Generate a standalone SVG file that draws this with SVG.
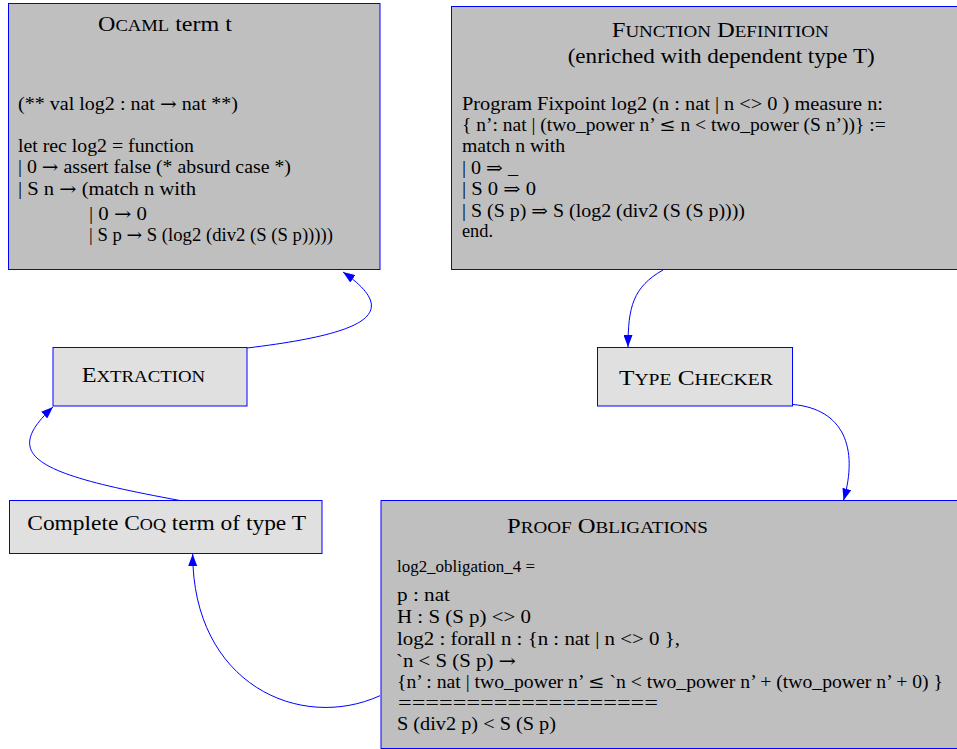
<svg xmlns="http://www.w3.org/2000/svg" width="957" height="749" viewBox="0 0 957 749">
<defs>
<marker id="ah" markerUnits="userSpaceOnUse" viewBox="0 0 12 9" markerWidth="12" markerHeight="9" refX="12" refY="4.5" orient="auto">
<path d="M0,0 L12,4.5 L0,9 z" fill="#0000ff"/>
</marker>
</defs>
<style>
.big{fill:#bfbfbf;stroke:#0000ff;stroke-width:1}
.small{fill:#e0e0e0;stroke:#0000ff;stroke-width:1}
text{font-family:"Liberation Serif","DejaVu Serif",serif;fill:#000}
.t{font-size:20.7px}
.sc{font-size:16px}
.b{font-size:18px}
.s{font-size:16px}
.ar{font-family:"DejaVu Serif",serif}
.edge{fill:none;stroke:#0000ff;stroke-width:1;marker-end:url(#ah)}
</style>
<g id="connectors">
<path class="edge" d="M180,500.5 C35,474 0,456 53,407"/>
<path class="edge" d="M247,348 C372,333 400.4,312 343,272"/>
<path class="edge" d="M663,270 C633,287 628,307 628,347"/>
<path class="edge" d="M793,404.5 C843,409 859,447 843.5,500.5"/>
<path class="edge" d="M380,695.7 C300,732 192.7,684 192.7,554"/>
</g>
<g id="ocaml">
<rect class="big" x="8.5" y="3.5" width="371.5" height="266"/>
<text class="t" x="98" y="31" textLength="134" lengthAdjust="spacingAndGlyphs">O<tspan class="sc">CAML</tspan> term t</text>
<text class="b" x="18" y="110" textLength="220" lengthAdjust="spacingAndGlyphs">(** val log2 : nat <tspan class="ar">→</tspan> nat **)</text>
<text class="b" x="18" y="152" textLength="176" lengthAdjust="spacingAndGlyphs">let rec log2 = function</text>
<text class="b" x="18" y="173" textLength="273" lengthAdjust="spacingAndGlyphs">| 0 <tspan class="ar">→</tspan> assert false (* absurd case *)</text>
<text class="b" x="18" y="195" textLength="178" lengthAdjust="spacingAndGlyphs">| S n <tspan class="ar">→</tspan> (match n with</text>
<text class="b" x="89" y="220" textLength="58" lengthAdjust="spacingAndGlyphs">| 0 <tspan class="ar">→</tspan> 0</text>
<text class="b" x="89" y="241" textLength="244" lengthAdjust="spacingAndGlyphs">| S p <tspan class="ar">→</tspan> S (log2 (div2 (S (S p)))))</text>
</g>
<g id="fundef">
<rect class="big" x="451.5" y="6.5" width="510" height="263"/>
<text class="t" x="611.7" y="36.7" textLength="217" lengthAdjust="spacingAndGlyphs">F<tspan class="sc">UNCTION</tspan> D<tspan class="sc">EFINITION</tspan></text>
<text class="t" x="567.7" y="63.3" textLength="307" lengthAdjust="spacingAndGlyphs">(enriched with dependent type T)</text>
<text class="b" x="462" y="110" textLength="421" lengthAdjust="spacingAndGlyphs">Program Fixpoint log2 (n : nat | n &lt;&gt; 0 ) measure n:</text>
<text class="b" x="462" y="131" textLength="423.7" lengthAdjust="spacingAndGlyphs">{ n’: nat | (two_power n’ <tspan class="ar">≤</tspan> n &lt; two_power (S n’))} :=</text>
<text class="b" x="462" y="151.7" textLength="103" lengthAdjust="spacingAndGlyphs">match n with</text>
<text class="b" x="462" y="174" textLength="56" lengthAdjust="spacingAndGlyphs">| 0 <tspan class="ar">⇒</tspan> _</text>
<text class="b" x="462" y="195" textLength="74" lengthAdjust="spacingAndGlyphs">| S 0 <tspan class="ar">⇒</tspan> 0</text>
<text class="b" x="462" y="216.7" textLength="283" lengthAdjust="spacingAndGlyphs">| S (S p) <tspan class="ar">⇒</tspan> S (log2 (div2 (S (S p))))</text>
<text class="b" x="462" y="237.3" textLength="31" lengthAdjust="spacingAndGlyphs">end.</text>
</g>
<g id="extraction">
<rect class="small" x="53" y="347.5" width="194" height="58.5"/>
<text class="t" x="81.7" y="382" textLength="123.3" lengthAdjust="spacingAndGlyphs">E<tspan class="sc">XTRACTION</tspan></text>
</g>
<g id="typechecker">
<rect class="small" x="597.5" y="347.5" width="195" height="58.5"/>
<text class="t" x="619" y="385" textLength="153.7" lengthAdjust="spacingAndGlyphs">T<tspan class="sc">YPE</tspan> C<tspan class="sc">HECKER</tspan></text>
</g>
<g id="coqterm">
<rect class="small" x="9.5" y="500.5" width="312.5" height="53"/>
<text class="t" x="27.3" y="530" textLength="278.7" lengthAdjust="spacingAndGlyphs">Complete C<tspan class="sc">OQ</tspan> term of type T</text>
</g>
<g id="proofobligations">
<rect class="big" x="381" y="500.5" width="581" height="248"/>
<text class="t" x="507" y="533" textLength="201" lengthAdjust="spacingAndGlyphs">P<tspan class="sc">ROOF</tspan> O<tspan class="sc">BLIGATIONS</tspan></text>
<text class="s" x="397" y="572" textLength="138" lengthAdjust="spacingAndGlyphs">log2_obligation_4 =</text>
<text class="b" x="397" y="601" textLength="53" lengthAdjust="spacingAndGlyphs">p : nat</text>
<text class="b" x="397" y="623" textLength="134" lengthAdjust="spacingAndGlyphs">H : S (S p) &lt;&gt; 0</text>
<text class="b" x="397" y="645" textLength="283" lengthAdjust="spacingAndGlyphs">log2 : forall n : {n : nat | n &lt;&gt; 0 },</text>
<text class="b" x="396" y="667" textLength="120" lengthAdjust="spacingAndGlyphs">`n &lt; S (S p) <tspan class="ar">→</tspan></text>
<text class="b" x="397" y="688" textLength="546" lengthAdjust="spacingAndGlyphs">{n’ : nat | two_power n’ <tspan class="ar">≤</tspan> `n &lt; two_power n’ + (two_power n’ + 0) }</text>
<text class="b" x="398" y="709" textLength="260" lengthAdjust="spacingAndGlyphs">===================</text>
<text class="b" x="397" y="730" textLength="159" lengthAdjust="spacingAndGlyphs">S (div2 p) &lt; S (S p)</text>
</g>
</svg>
